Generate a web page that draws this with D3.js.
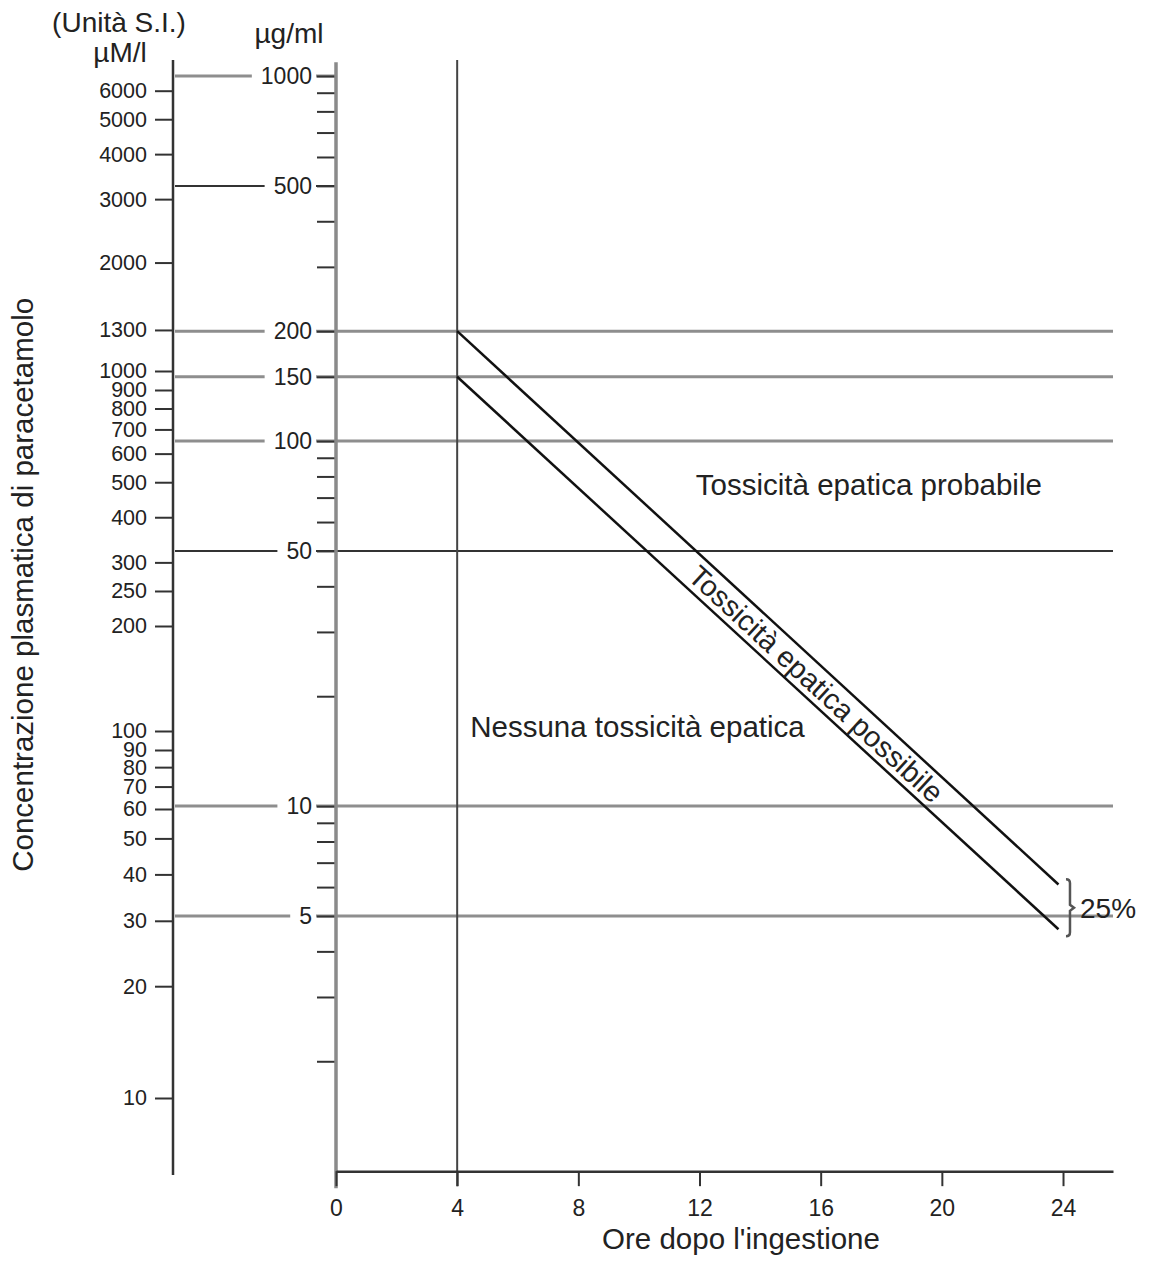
<!DOCTYPE html>
<html><head><meta charset="utf-8">
<script src="https://cdn.jsdelivr.net/npm/d3@7"></script>
<style>
body{margin:0;background:#fff;}
svg{display:block;font-family:"Liberation Sans",Arial,Helvetica,sans-serif;}
</style></head><body>
<svg id="c" width="1150" height="1261"></svg>
<script>
// ---- data ----
const hourTicks = [0, 4, 8, 12, 16, 20, 24];
const ugLabelled = [1000, 500, 200, 150, 100, 50, 10, 5];
const ugMinor = [900, 800, 700, 600, 400, 300, 90, 80, 70, 60, 40, 30, 20, 9, 8, 7, 6, 4, 3, 2];
const umTicks = [6000, 5000, 4000, 3000, 2000, 1300, 1000, 900, 800, 700, 600, 500, 400, 300, 250, 200,
                 100, 90, 80, 70, 60, 50, 40, 30, 20, 10];
const shortLines = [1000, 500];
const longLines = [200, 150, 100, 50, 10, 5];
const darkLines = [500, 50];
const treatmentHour = 4;
const upperLine = [[4, 200], [23.85, 6.1]];
const lowerLine = [[4, 150], [23.85, 4.6]];
const braceRange = [6.3, 4.4];
const braceHour = 24.23;

// ---- scales ----
const svg = d3.select("#c");
const x = d3.scaleLinear().domain([0, 25.65]).range([336, 1113]);
const y = d3.scaleLog().domain([1000, 5]).range([76, 916]);          // µg/ml
// µM/l scale, calibrated piecewise to the printed (slightly irregular) left axis
const yL = d3.scaleLog().domain([7300, 6000, 1000, 900, 200, 100, 90, 60, 10, 6.14])
  .range([60, 90.7, 371, 390, 626, 731, 750, 809, 1098, 1175]);
const axisY = y(1);            // x axis baseline (1 µg/ml)
const topY = y(1090);
const leftX = 173, midX = 336;
const textCol = "#222";

// ---- horizontal reference lines ----
const hl = svg.append("g");
shortLines.forEach(v => {
  hl.append("line").attr("x1", leftX + 2).attr("x2", midX).attr("y1", y(v)).attr("y2", y(v))
    .attr("stroke", darkLines.includes(v) ? "#333" : "#8e8e8e")
    .attr("stroke-width", darkLines.includes(v) ? 2 : 3);
});
longLines.forEach(v => {
  hl.append("line").attr("x1", leftX + 2).attr("x2", x.range()[1]).attr("y1", y(v)).attr("y2", y(v))
    .attr("stroke", darkLines.includes(v) ? "#333" : "#8e8e8e")
    .attr("stroke-width", darkLines.includes(v) ? 2 : 3);
});

// vertical line at 4 h
svg.append("line").attr("x1", x(treatmentHour)).attr("x2", x(treatmentHour))
  .attr("y1", yL(7300)).attr("y2", axisY + 15).attr("stroke", "#444").attr("stroke-width", 2);

// ---- left axis (µM/l) ----
const gL = svg.append("g").attr("transform", `translate(${leftX},0)`)
  .call(d3.axisLeft(yL).tickValues(umTicks).tickSize(18).tickPadding(8).tickSizeOuter(0).tickFormat(d3.format("d")));
gL.select(".domain").remove();
gL.selectAll(".tick line").attr("stroke", "#333").attr("stroke-width", 2);
gL.selectAll(".tick text").attr("fill", textCol).style("font-size", "21.5px").attr("font-family", null);
svg.append("line").attr("x1", leftX).attr("x2", leftX).attr("y1", yL(7300)).attr("y2", yL(6.14))
  .attr("stroke", "#333").attr("stroke-width", 2.5);

// ---- middle axis (µg/ml) ----
const gM = svg.append("g").attr("transform", `translate(${midX},0)`)
  .call(d3.axisLeft(y).tickValues(ugLabelled.concat(ugMinor)).tickSize(19).tickPadding(5).tickSizeOuter(0)
    .tickFormat(d => ugLabelled.includes(d) ? d3.format("d")(d) : ""));
gM.select(".domain").remove();
gM.selectAll(".tick line").attr("stroke", "#333").attr("stroke-width", 2);
gM.selectAll(".tick text").attr("fill", textCol).style("font-size", "23px").attr("font-family", null);
gM.selectAll(".tick").each(function(d) {
  if (!ugLabelled.includes(d)) return;
  const t = d3.select(this).select("text");
  const b = t.node().getBBox();
  d3.select(this).insert("rect", "text").attr("x", b.x - 9).attr("y", b.y + 2)
    .attr("width", b.width + 13).attr("height", b.height - 4).attr("fill", "#fff");
});
svg.append("line").attr("x1", midX).attr("x2", midX).attr("y1", topY).attr("y2", axisY + 17)
  .attr("stroke", "#8a8a8a").attr("stroke-width", 3.5);

// ---- x axis ----
const gX = svg.append("g").attr("transform", `translate(0,${axisY})`)
  .call(d3.axisBottom(x).tickValues(hourTicks).tickSize(15).tickPadding(14).tickSizeOuter(0));
gX.select(".domain").attr("stroke", "#333").attr("stroke-width", 2.5);
gX.selectAll(".tick line").attr("stroke", "#333").attr("stroke-width", 2);
gX.selectAll(".tick text").attr("fill", textCol).style("font-size", "23px").attr("font-family", null);

// ---- nomogram lines ----
const line = d3.line().x(d => x(d[0])).y(d => y(d[1]));
[upperLine, lowerLine].forEach(L => {
  svg.append("path").attr("d", line(L)).attr("fill", "none").attr("stroke", "#111").attr("stroke-width", 2.5);
});

// rotated label between the lines
const angle = Math.atan2(y(upperLine[1][1]) - y(upperLine[0][1]), x(upperLine[1][0]) - x(upperLine[0][0])) * 180 / Math.PI;
const lh = 15.85;
const interp = (L, h) => { const t = (h - L[0][0]) / (L[1][0] - L[0][0]);
  return Math.exp(Math.log(L[0][1]) + t * (Math.log(L[1][1]) - Math.log(L[0][1]))); };
const midPix = (y(interp(upperLine, lh)) + y(interp(lowerLine, lh))) / 2;
svg.append("text").attr("transform", `translate(${x(lh)},${midPix}) rotate(${angle})`)
  .attr("text-anchor", "middle").attr("dy", "0.35em").style("font-size", "29px").attr("fill", textCol)
  .text("Tossicità epatica possibile");

// region labels
svg.append("text").attr("x", x(11.88)).attr("y", y(71)).style("font-size", "29.5px").attr("fill", textCol)
  .text("Tossicità epatica probabile");
svg.append("text").attr("x", x(4.43)).attr("y", y(15.5)).style("font-size", "29.5px").attr("fill", textCol)
  .text("Nessuna tossicità epatica");

// brace + 25%
const bx = x(braceHour), bt = y(braceRange[0]), bb = y(braceRange[1]), bm = (bt + bb) / 2;
svg.append("path").attr("d", `M${bx-4},${bt} Q${bx},${bt} ${bx},${bt+4} L${bx},${bm-3} L${bx+4},${bm} L${bx},${bm+3} L${bx},${bb-4} Q${bx},${bb} ${bx-4},${bb}`)
  .attr("fill", "none").attr("stroke", "#555").attr("stroke-width", 2.5);
svg.append("text").attr("x", bx + 10).attr("y", bm).attr("dy", "0.35em").style("font-size", "28px").attr("fill", textCol)
  .text("25%");

// ---- titles ----
svg.append("text").attr("transform", `translate(33,${yL(260)}) rotate(-90)`)
  .attr("text-anchor", "middle").style("font-size", "29.5px").attr("fill", textCol)
  .text("Concentrazione plasmatica di paracetamolo");
svg.append("text").attr("x", x(13.37)).attr("y", axisY + 78).attr("text-anchor", "middle")
  .style("font-size", "29.5px").attr("fill", textCol).text("Ore dopo l'ingestione");
svg.append("text").attr("x", 119).attr("y", 32).attr("text-anchor", "middle").style("font-size", "28px")
  .attr("fill", textCol).text("(Unità S.I.)");
svg.append("text").attr("x", 120).attr("y", 62).attr("text-anchor", "middle").style("font-size", "28px")
  .attr("fill", textCol).text("µM/l");
svg.append("text").attr("x", 289).attr("y", 43).attr("text-anchor", "middle").style("font-size", "28px")
  .attr("fill", textCol).text("µg/ml");
</script>
</body></html>
